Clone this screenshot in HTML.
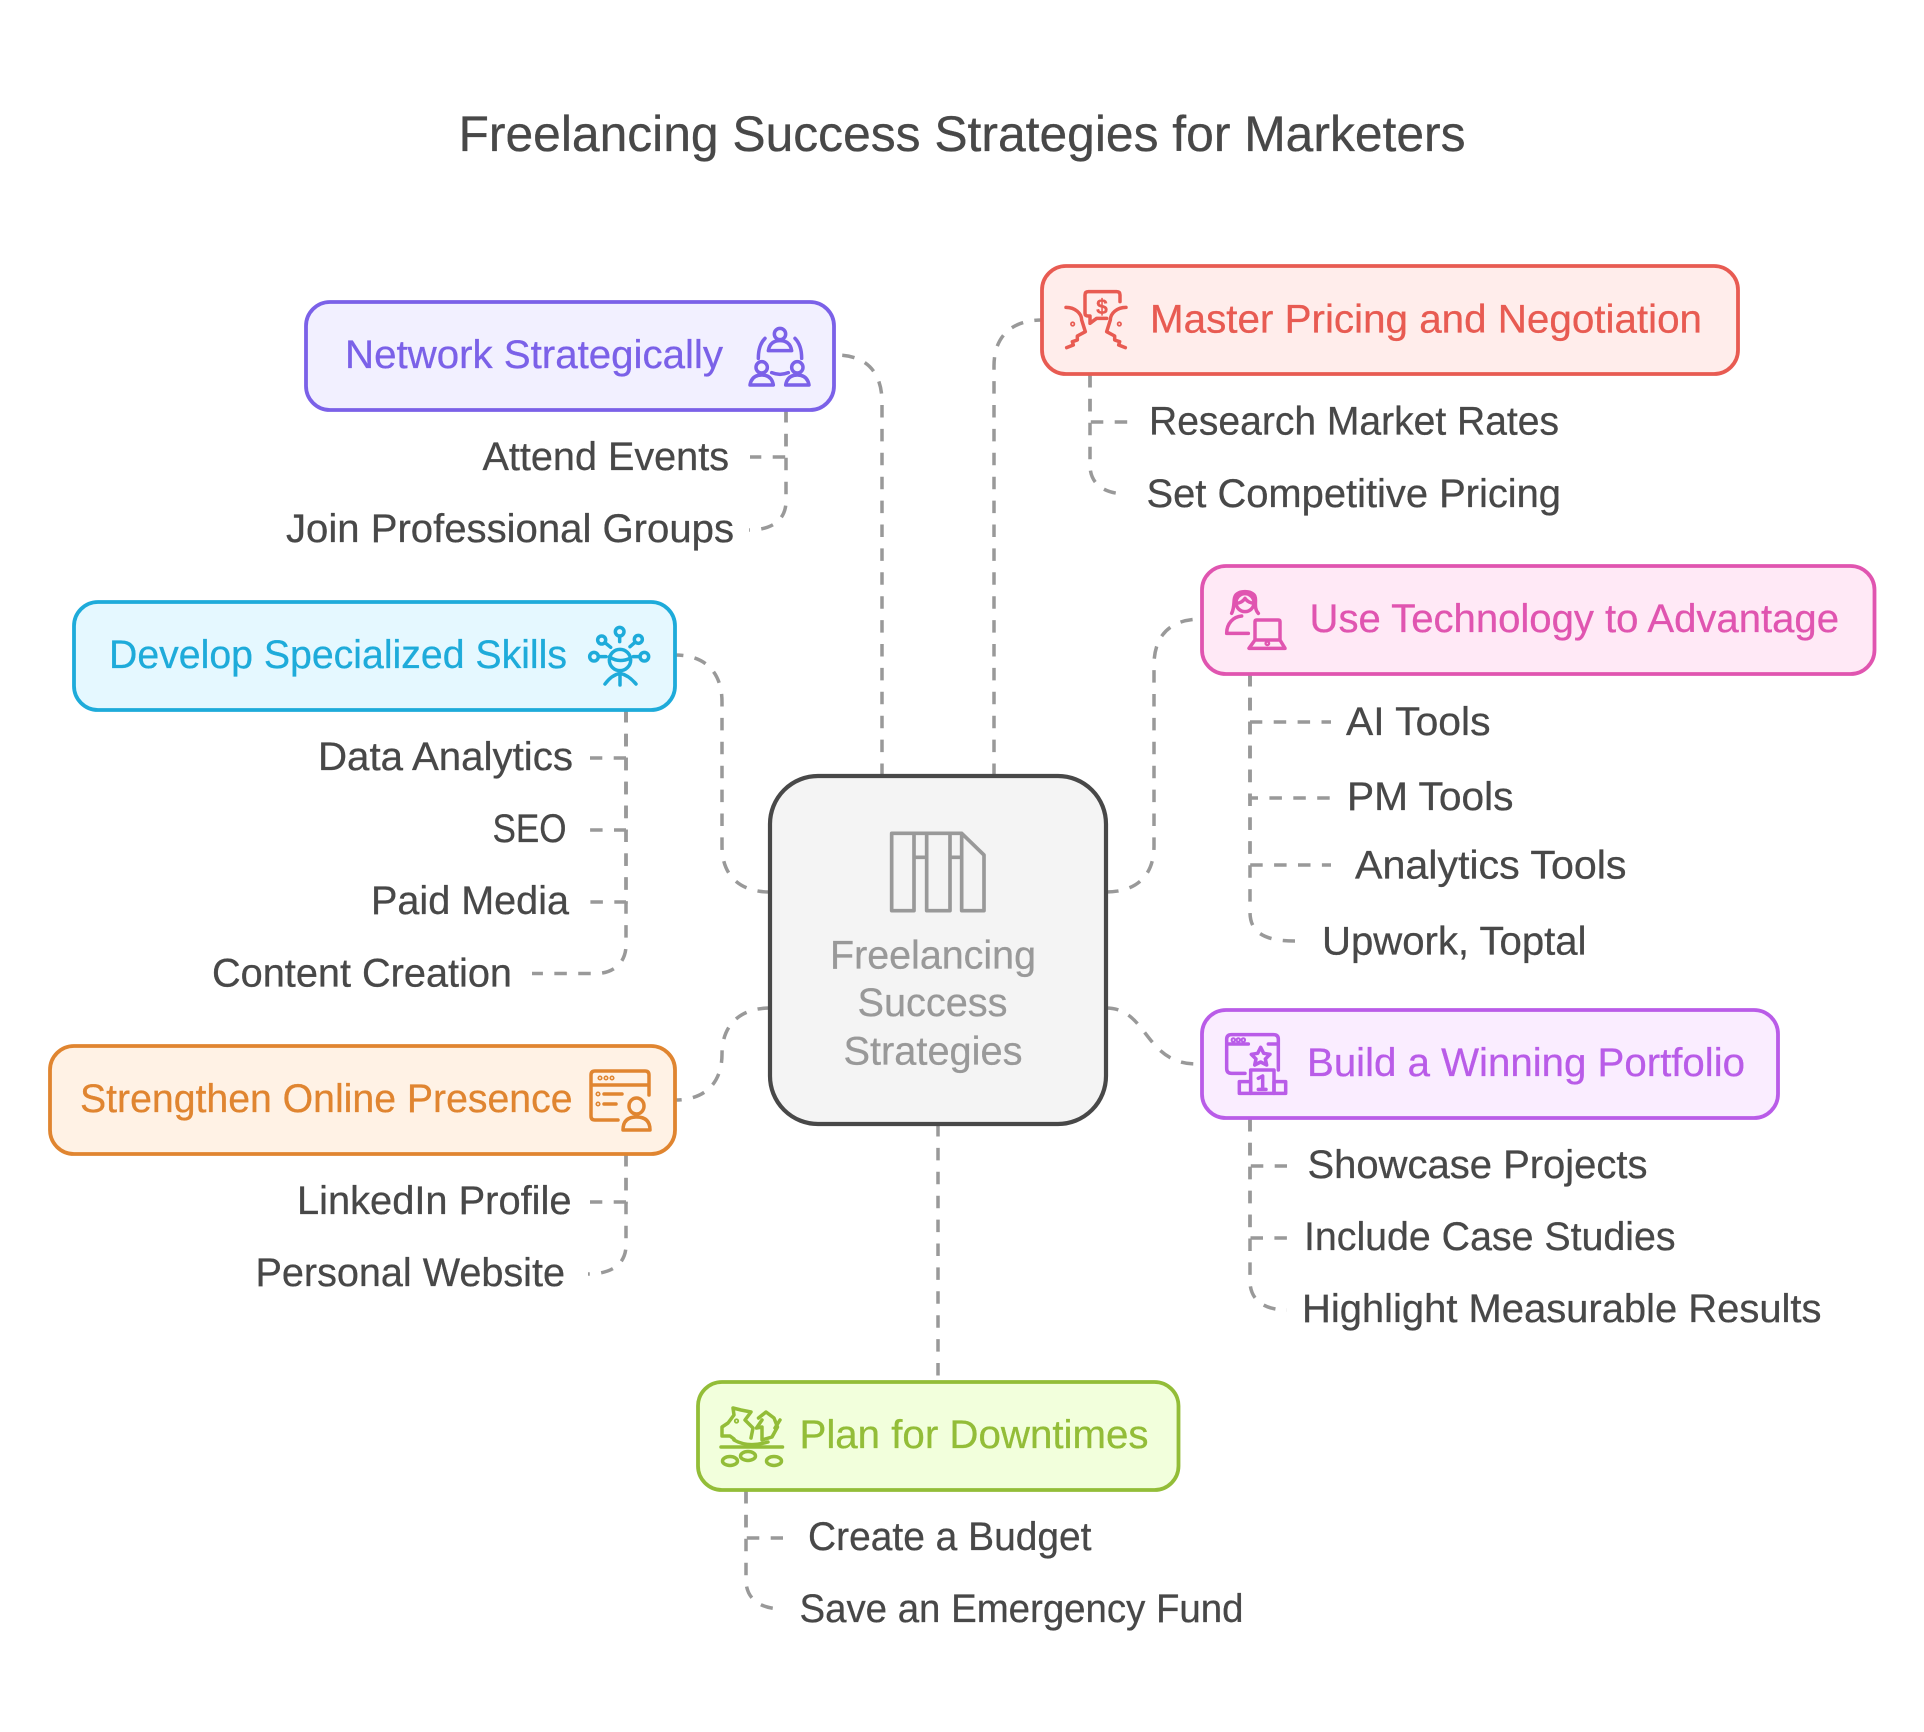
<!DOCTYPE html>
<html>
<head>
<meta charset="utf-8">
<style>
html,body{margin:0;padding:0;background:#fff;}
svg{display:block;}
text{font-family:"Liberation Sans",Arimo,sans-serif;font-size:40px;color:#484848;fill:currentColor;stroke:currentColor;stroke-width:.3px;}
.c{fill:none;stroke:#999;stroke-width:3.5;stroke-dasharray:12.5 11.4;}
.i{fill:none;stroke-width:10.500;stroke-linecap:round;stroke-linejoin:round;}
</style>
</head>
<body>
<svg width="1924" height="1732" viewBox="0 0 1924 1732" xmlns="http://www.w3.org/2000/svg">
<rect width="1924" height="1732" fill="#fff"/>

<text x="458.500" y="151" textLength="1007" lengthAdjust="spacingAndGlyphs" style="font-size:50px">Freelancing Success Strategies for Marketers</text>

<!-- main connectors, all drawn outward from the centre node -->
<path class="c" d="M882 776V402C882 372 866 355 836 355"/>
<path class="c" d="M994 776V366C994 336 1012 320 1042 320"/>
<path class="c" d="M770 892C740 892 722 876 722 846V702C722 672 705 655 675 655"/>
<path class="c" d="M770 1008C740 1008 722 1025 722 1054C722 1083 705 1100 675 1100"/>
<path class="c" d="M1106 892C1136 892 1154 876 1154 846V665C1154 635 1171 619 1201 619"/>
<path class="c" d="M1106 1008C1148 1008 1144 1064 1197 1064"/>
<path class="c" d="M938 1124V1378"/>

<!-- child connectors, all drawn outward from the parent node -->
<path class="c" d="M786 410V457H750"/>
<path class="c" d="M786 410V501C786 520 772 530 749 530"/>
<path class="c" d="M626 710V758H590"/>
<path class="c" d="M626 710V830H590"/>
<path class="c" d="M626 710V902H590"/>
<path class="c" d="M626 710V945C626 964 612 973.500 596 973.500H532"/>
<path class="c" d="M626 1154V1202H590"/>
<path class="c" d="M626 1154V1245C626 1264 612 1274 588 1274"/>
<path class="c" d="M1090 375V422H1128"/>
<path class="c" d="M1090 375V465C1090 484 1104 494 1127 494"/>
<path class="c" d="M1250 674V722H1331"/>
<path class="c" d="M1250 674V798H1330"/>
<path class="c" d="M1250 674V865H1331"/>
<path class="c" d="M1250 674V912C1250 931 1262 941 1295 941"/>
<path class="c" d="M1250 1119V1166H1287"/>
<path class="c" d="M1250 1119V1238H1287"/>
<path class="c" d="M1250 1119V1281C1250 1300 1264 1310 1287 1310"/>
<path class="c" d="M746 1491V1538H783"/>
<path class="c" d="M746 1491V1580C746 1599 760 1609 783 1609"/>

<!-- boxes -->
<rect x="306" y="302" width="528" height="108" rx="24" fill="#f2f0ff" stroke="#7b61e8" stroke-width="3.800"/>
<rect x="74" y="602" width="601" height="108" rx="24" fill="#e5f8ff" stroke="#1eabda" stroke-width="3.800"/>
<rect x="1042" y="266" width="696" height="108" rx="24" fill="#ffedeb" stroke="#e85b52" stroke-width="3.800"/>
<rect x="1202" y="566" width="672.500" height="108" rx="24" fill="#ffe9f6" stroke="#e055b0" stroke-width="3.800"/>
<rect x="1202" y="1010" width="576" height="108" rx="24" fill="#faedff" stroke="#b95ce8" stroke-width="3.800"/>
<rect x="50" y="1046" width="625" height="108" rx="24" fill="#fff2e5" stroke="#e08530" stroke-width="3.800"/>
<rect x="698" y="1382" width="480.500" height="108" rx="24" fill="#f2ffdc" stroke="#93bd38" stroke-width="3.800"/>
<rect x="770" y="776" width="336" height="348" rx="48" fill="#f4f4f4" stroke="#484848" stroke-width="4.200"/>

<!-- center icon -->
<g transform="translate(870 820) scale(.33333)" class="i" stroke="#999">
<path stroke-width="11" d="M65 40H132V272H65ZM170 40H240V272H170ZM275 272V40L342 105V272ZM132 40H170M240 40H275M132 112H170M240 112H275"/>
</g>

<!-- network icon -->
<g transform="translate(740 310) scale(.33333)" class="i" stroke="#7b61e8">
<circle cx="120" cy="72" r="17"/><path d="M85 122Q90 92 120 92Q150 92 155 122Z"/>
<circle cx="65" cy="172" r="17"/><path d="M30 225Q35 195 65 195Q95 195 100 225Z"/>
<circle cx="172" cy="172" r="17"/><path d="M137 225Q142 195 172 195Q202 195 207 225Z"/>
<path d="M75 85Q55 105 55 145M165 85Q185 105 185 145M95 188Q120 198 145 188"/>
</g>

<!-- develop icon -->
<g transform="translate(580 620) scale(.33333)" class="i" stroke="#1eabda">
<circle cx="120" cy="120" r="32"/><path d="M88 110Q115 130 150 115M75 192Q95 165 120 160Q145 165 168 192M120 155V195"/>
<circle cx="119" cy="35" r="13"/><path d="M119 48V65"/>
<circle cx="65" cy="60" r="12"/><path d="M75 68L92 82"/>
<circle cx="175" cy="58" r="12"/><path d="M165 67L150 80"/>
<circle cx="42" cy="110" r="13"/><path d="M55 110H78"/>
<circle cx="193" cy="110" r="13"/><path d="M180 110H160"/>
</g>

<!-- master icon -->
<g transform="translate(1040 270) scale(.33333)" class="i" stroke="#e85b52">
<path d="M240 95V75Q240 65 230 65H145Q135 65 135 75V130Q135 138 145 138H150V160L170 145H200"/>
<path d="M78 112C105 112 125 130 125 150L136 185L112 198L112 210L97 215L100 225L80 233"/>
<path d="M258 112C231 112 211 130 211 150L200 185L224 198L224 210L239 215L236 225L256 233"/>
<circle cx="98" cy="162" r="2.500"/><circle cx="238" cy="162" r="2.500"/>
</g>
<text x="1102" y="314" style="font-size:21px;font-weight:bold;color:#e85b52" text-anchor="middle">$</text>

<!-- use technology icon -->
<g transform="translate(1220 580) scale(.33333)" class="i" stroke="#e055b0">
<circle cx="75" cy="68" r="27"/>
<path d="M35 100C45 80 40 55 45 50C50 30 100 30 105 50C110 60 100 85 115 100M48 70Q65 70 75 55Q85 70 105 70"/>
<path d="M85 160H20C20 130 40 110 65 108"/>
<path d="M105 180V125Q105 120 110 120H175Q180 120 180 125V180M105 180L87 205H195L180 180Z"/>
<circle cx="142" cy="190" r="3.500"/>
</g>

<!-- build icon -->
<g transform="translate(1220 1030) scale(.33333)" class="i" stroke="#b95ce8">
<path d="M75 130H35Q20 130 20 115V28Q20 14 35 14H160Q175 14 175 28V120M20 42H85M145 42H175"/>
<circle cx="40" cy="30" r="3"/><circle cx="55" cy="30" r="3"/><circle cx="70" cy="30" r="3"/>
<path d="M122 52L131 70L150 73L136 87L140 105L122 96L104 105L108 87L94 73L113 70Z"/>
<rect x="92" y="120" width="70" height="70"/>
<rect x="58" y="155" width="34" height="35"/>
<rect x="162" y="155" width="35" height="35"/>
<path d="M115 145L128 138V178M115 178H138"/>
</g>

<!-- strengthen icon -->
<g fill="none" stroke="#e08530" stroke-width="3.500" stroke-linecap="round" stroke-linejoin="round">
<path d="M618 1120H595Q591 1120 591 1116V1075Q591 1071 595 1071H645Q649 1071 649 1075V1095M591 1085H649"/>
<circle cx="600" cy="1078" r=".8"/><circle cx="606" cy="1078" r=".8"/><circle cx="612" cy="1078" r=".8"/>
<circle cx="598" cy="1094" r=".8"/><circle cx="598" cy="1104" r=".8"/>
<path d="M604 1094H622M604 1104H616"/>
<ellipse cx="636.500" cy="1106" rx="7.500" ry="8"/>
<path d="M623 1130Q623 1117 636.500 1117Q650 1117 650 1130Z"/>
</g>

<!-- plan icon -->
<g fill="none" stroke="#93bd38" stroke-width="3.500" stroke-linecap="round" stroke-linejoin="round">
<path d="M734 1439L730 1436H722V1427L728 1423L734 1415L733 1408L741 1410L751 1412L745 1420L753 1428L751 1438"/>
<path d="M758.500 1418L766 1412L774 1418L777.500 1427L772 1437L762 1440L762 1427L756.500 1428L762 1420"/>
<path d="M775 1428L780 1420M734 1440Q748 1448 768 1442"/>
<circle cx="736.500" cy="1421" r=".9"/>
<path d="M721 1447H782.500"/>
<ellipse cx="730" cy="1461" rx="7.500" ry="4.500"/>
<ellipse cx="748" cy="1456" rx="7.500" ry="4.500"/>
<ellipse cx="774" cy="1461" rx="7.500" ry="4.500"/>
</g>

<!-- box labels -->
<text x="345" y="368" textLength="378" lengthAdjust="spacingAndGlyphs" style="color:#7b61e8">Network Strategically</text>
<text x="109" y="668" textLength="458" lengthAdjust="spacingAndGlyphs" style="color:#1eabda">Develop Specialized Skills</text>
<text x="80" y="1112" textLength="492.500" lengthAdjust="spacingAndGlyphs" style="color:#e08530">Strengthen Online Presence</text>
<text x="1150" y="332.500" textLength="552" lengthAdjust="spacingAndGlyphs" style="color:#e85b52">Master Pricing and Negotiation</text>
<text x="1309.500" y="632" textLength="529.500" lengthAdjust="spacingAndGlyphs" style="color:#e055b0">Use Technology to Advantage</text>
<text x="1307" y="1076" textLength="438" lengthAdjust="spacingAndGlyphs" style="color:#b95ce8">Build a Winning Portfolio</text>
<text x="799.500" y="1448" textLength="349" lengthAdjust="spacingAndGlyphs" style="color:#93bd38">Plan for Downtimes</text>

<!-- center labels -->
<text x="830" y="968.500" textLength="206" lengthAdjust="spacingAndGlyphs" style="color:#999">Freelancing</text>
<text x="857.500" y="1016" textLength="150" lengthAdjust="spacingAndGlyphs" style="color:#999">Success</text>
<text x="843.500" y="1064.500" textLength="179" lengthAdjust="spacingAndGlyphs" style="color:#999">Strategies</text>

<!-- child labels -->
<text x="482.500" y="470" textLength="246.500" lengthAdjust="spacingAndGlyphs">Attend Events</text>
<text x="286" y="542" textLength="448" lengthAdjust="spacingAndGlyphs">Join Professional Groups</text>
<text x="318" y="770" textLength="255" lengthAdjust="spacingAndGlyphs">Data Analytics</text>
<text x="492.500" y="842" textLength="74" lengthAdjust="spacingAndGlyphs">SEO</text>
<text x="371" y="914" textLength="198" lengthAdjust="spacingAndGlyphs">Paid Media</text>
<text x="212" y="986.500" textLength="300" lengthAdjust="spacingAndGlyphs">Content Creation</text>
<text x="297" y="1214" textLength="274.500" lengthAdjust="spacingAndGlyphs">LinkedIn Profile</text>
<text x="255.500" y="1286" textLength="309.500" lengthAdjust="spacingAndGlyphs">Personal Website</text>
<text x="1149" y="434.500" textLength="410" lengthAdjust="spacingAndGlyphs">Research Market Rates</text>
<text x="1146.500" y="507" textLength="414.500" lengthAdjust="spacingAndGlyphs">Set Competitive Pricing</text>
<text x="1346" y="735" textLength="144.500" lengthAdjust="spacingAndGlyphs">AI Tools</text>
<text x="1347" y="810" textLength="166.500" lengthAdjust="spacingAndGlyphs">PM Tools</text>
<text x="1355" y="878.500" textLength="271.500" lengthAdjust="spacingAndGlyphs">Analytics Tools</text>
<text x="1322" y="954.500" textLength="264.500" lengthAdjust="spacingAndGlyphs">Upwork, Toptal</text>
<text x="1307.500" y="1178" textLength="340" lengthAdjust="spacingAndGlyphs">Showcase Projects</text>
<text x="1304" y="1250" textLength="371.500" lengthAdjust="spacingAndGlyphs">Include Case Studies</text>
<text x="1302" y="1322" textLength="519.500" lengthAdjust="spacingAndGlyphs">Highlight Measurable Results</text>
<text x="808" y="1550" textLength="283.500" lengthAdjust="spacingAndGlyphs">Create a Budget</text>
<text x="799.500" y="1622" textLength="444" lengthAdjust="spacingAndGlyphs">Save an Emergency Fund</text>
</svg>
</body>
</html>
